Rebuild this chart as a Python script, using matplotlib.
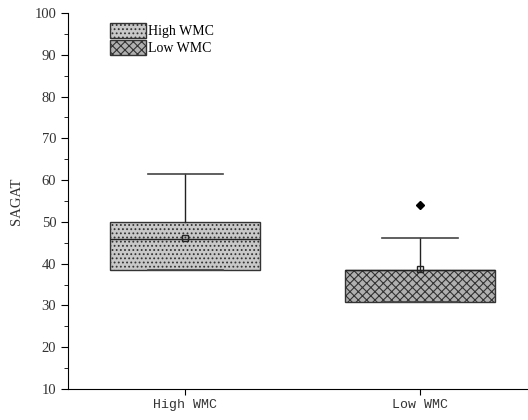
import matplotlib
matplotlib.use("Agg")
import matplotlib.pyplot as plt
from matplotlib.patches import Patch

groups = ["High WMC", "Low WMC"]
q1 = [38.5, 30.8]
med = [46.0, 38.5]
q3 = [50.0, 38.5]
whislo = [38.5, 30.8]
whishi = [61.4, 46.1]
means = [46.1, 38.6]
fliers = [[], [54.0]]

hatches = ["....", "xxxx"]
faces = ["#c8c8c8", "#b0b0b0"]

plt.rcParams["hatch.color"] = "#666666"
plt.rcParams["hatch.linewidth"] = 0.8

fig = plt.figure(figsize=(5.28, 4.2), dpi=100)
ax = fig.add_axes([0.129, 0.074, 0.871, 0.895])

stats = []
for i, g in enumerate(groups):
    stats.append(dict(label=g, q1=q1[i], med=med[i], q3=q3[i], whislo=whislo[i],
                      whishi=whishi[i], mean=means[i], fliers=fliers[i]))

bp = ax.bxp(stats, positions=[1, 2], widths=0.64, patch_artist=True, showmeans=True,
            showcaps=True,
            boxprops=dict(linewidth=1.0, edgecolor="#333333"),
            medianprops=dict(color="#222222", linewidth=1.0),
            whiskerprops=dict(color="#222222", linewidth=1.0),
            capprops=dict(color="#444444", linewidth=1.2),
            meanprops=dict(marker="s", markersize=4, markerfacecolor="none",
                           markeredgecolor="#222222", markeredgewidth=1.0),
            flierprops=dict(marker="D", markersize=4, markerfacecolor="black",
                            markeredgecolor="black"))
for patch, h, fc in zip(bp["boxes"], hatches, faces):
    patch.set_facecolor(fc)
    patch.set_hatch(h)
    patch.set_edgecolor("#333333")

ax.set_xlim(0.502, 2.46)
ax.set_ylim(10, 100)
ax.set_yticks(range(10, 101, 10))
ax.set_yticks(range(15, 100, 10), minor=True)
ax.set_xticks([1, 2])
ax.set_xticklabels(groups, family="Liberation Mono", fontsize=9.5, color="#333333")
for lab in ax.get_yticklabels():
    lab.set_family("Liberation Serif")
    lab.set_fontsize(10.5)
    lab.set_color("#333333")
ax.tick_params(axis="y", which="major", length=5, direction="out")
ax.tick_params(axis="y", which="minor", length=3, direction="out")
ax.tick_params(axis="x", length=4, direction="out")
ax.spines["top"].set_visible(False)
ax.spines["right"].set_visible(False)
ax.set_ylabel("SAGAT", family="Liberation Serif", fontsize=10.5, color="#333333", labelpad=8)

handles = [Patch(facecolor=faces[i], edgecolor="#333333", hatch=hatches[i], label=groups[i])
           for i in range(2)]
leg = ax.legend(handles=handles, loc="upper left", bbox_to_anchor=(0.07, 1.0),
                frameon=False, prop=dict(family="Liberation Serif", size=10),
                handlelength=2.6, handleheight=1.3, handletextpad=0.1,
                labelspacing=0.15, borderaxespad=0.3)

fig.savefig("out.png", dpi=100)
